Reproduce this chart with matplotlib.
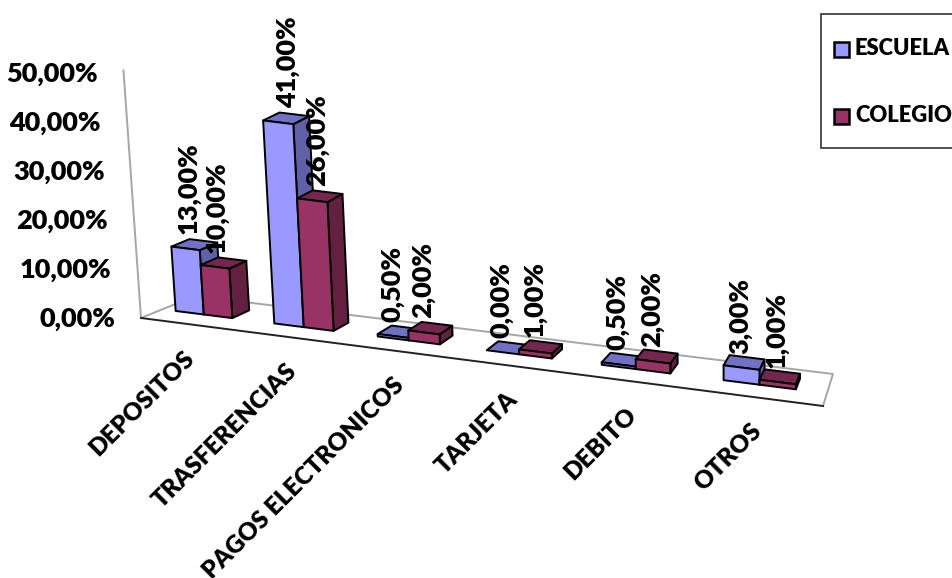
import numpy as np
import matplotlib
matplotlib.use("Agg")
import matplotlib.pyplot as plt
from matplotlib.patches import Polygon, Rectangle

categories = ["DEPOSITOS", "TRASFERENCIAS", "PAGOS ELECTRONICOS", "TARJETA", "DEBITO", "OTROS"]
escuela = [13.0, 41.0, 0.5, 0.0, 0.5, 3.0]
colegio = [10.0, 26.0, 2.0, 1.0, 2.0, 1.0]
value_ticks = [0, 10, 20, 30, 40, 50]
series_names = ["ESCUELA", "COLEGIO"]

FRONT = ["#9999FF", "#993366"]
TOP = ["#7070C4", "#74264F"]
SIDE = ["#6060A8", "#642040"]
TEXT = dict(family="Lato", fontweight="heavy", color="black")

# Corners of the chart floor in figure pixels: front-left, front-right, back-right, back-left
FL, FR, BR, BL = map(np.array, [(141., 318.), (823., 406.), (833., 374.), (195., 296.)])
PX_PER_UNIT = 4.95
BAR_SPAN = 0.58
DEPTH = (0.38, 0.72)
U_SHIFT = -0.012

# Perspective map of the unit floor square onto the corner quadrilateral
_dx1, _dy1 = FR - BR
_dx2, _dy2 = BL - BR
_sx, _sy = FL - FR + BR - BL
_det = _dx1 * _dy2 - _dx2 * _dy1
G = (_sx * _dy2 - _dx2 * _sy) / _det
H = (_dx1 * _sy - _sx * _dy1) / _det
A = FR * (1 + G) - FL
B = BL * (1 + H) - FL


def project(u, d, v):
    """Map category position u, depth d and value v to figure pixels."""
    w = 1 + G * u + H * d
    p = (FL + A * u + B * d) / w
    lean = max(0.0, 0.35 * (1 - (p[0] - 141) / 600))
    return np.array([p[0] - lean * v, p[1] - PX_PER_UNIT * v])


fig = plt.figure(figsize=(9.52, 5.78), dpi=100)
ax = fig.add_axes([0, 0, 1, 1])
ax.set_xlim(0, 952)
ax.set_ylim(578, 0)
ax.axis("off")

# Floor outline and value axis
grey = "#A6A6A6"
ax.plot(*zip(project(0, 0, 50), project(0, 0, 0)), color=grey, lw=1.4, zorder=1)
ax.plot(*zip(FL, BL, BR, FR), color=grey, lw=1.4, zorder=1)
ax.plot(*zip(FL, FR), color="#222222", lw=1.4, zorder=1)

for v in value_ticks:
    x, y = project(0, 0, v)
    ax.text(x - 26, y + 1 + 0.05 * v, f"{v:.2f}".replace(".", ",") + "%", ha="right", va="center",
            fontsize=19.5, zorder=10, **TEXT)

n = len(categories)
z = 2
for i, vals in enumerate(zip(escuela, colegio)):
    # Slots widen slightly toward the near end of the floor
    center = (i + 0.5) / n + U_SHIFT + 0.00005 * i ** 3
    half = BAR_SPAN / n / 2
    edges = [center - half, center, center + half]
    for s, v in enumerate(vals):
        u0, u1 = edges[s], edges[s + 1]
        d0, d1 = DEPTH
        a, b = project(u0, d0, 0), project(u1, d0, 0)
        c, e = project(u0, d0, v), project(u1, d0, v)
        f, g = project(u1, d1, 0), project(u1, d1, v)
        h = project(u0, d1, v)
        style = dict(edgecolor="black", linewidth=1.4, joinstyle="round", zorder=z)
        ax.add_patch(Polygon([b, f, g, e], facecolor=SIDE[s], **style))
        ax.add_patch(Polygon([c, e, g, h], facecolor=TOP[s], **style))
        if v > 0:
            ax.add_patch(Polygon([a, b, e, c], facecolor=FRONT[s], **style))
        z += 1
        # Value label stands upright above the bar's front edge
        tx = project((u0 + u1) / 2, d0, 0)[0]
        ty = project((u0 + u1) / 2, d0, v)[1]
        ax.text(tx - 1, ty - 14, f"{v:.2f}".replace(".", ",") + "%", rotation=90, ha="center", va="bottom",
                fontsize=19.5, zorder=20, **TEXT)
    lx, ly = project((i + 0.5) / n, 0, 0)
    ax.text(lx, ly + 30, categories[i], rotation=45, rotation_mode="anchor", ha="right", va="center",
            fontsize=17.6, zorder=10, clip_on=True, **TEXT)

# Legend box runs past the right edge of the figure
ax.add_patch(Rectangle((821, 14), 160, 134, facecolor="white", edgecolor="#333333", linewidth=1.2, zorder=30))
for name, col, y in zip(series_names, FRONT, (48.5, 115.5)):
    ax.add_patch(Rectangle((834, y - 7), 15, 15, facecolor=col, edgecolor="black", linewidth=1.8, zorder=31))
    ax.text(855, y, name, ha="left", va="center", fontsize=15.8, zorder=31, clip_on=True, **TEXT)

fig.savefig("out.png", dpi=100)
